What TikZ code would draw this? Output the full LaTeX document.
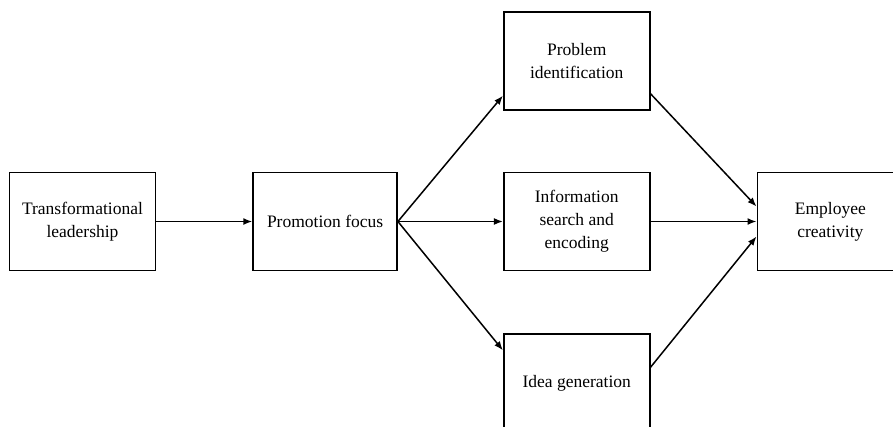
\documentclass[tikz,border=0pt]{standalone}
\usepackage{fontspec}
\setmainfont{Liberation Serif}
\usetikzlibrary{positioning, arrows.meta}

\begin{document}
\begin{tikzpicture}[x=1pt, y=1pt,
	stage/.style={draw, line width=1.6pt, align=center, inner sep=0pt,
		minimum width=146pt, minimum height=98pt,
		font=\fontsize{17.5}{23}\selectfont},
	link/.style={line width=1.5pt, -{Latex[length=9pt,width=7pt]}}]
	\useasboundingbox (0,0) rectangle (893,-426);
	\clip (0,0) rectangle (893,-426);

	\node[stage] (tl) at (82.5,-221.5) {Transformational\\leadership};
	\node[stage, minimum width=144pt, right=96pt of tl] (pf) {Promotion focus};
	\node[stage, right=105pt of pf] (is) {Information\\search and\\encoding};
	\node[stage, above=61pt of is] (pi) {Problem\\identification};
	\node[stage, below=62pt of is] (ig) {Idea generation};
	\node[stage, right=106pt of is] (ec) {Employee\\creativity};

	\draw[link] (tl) -- (pf);
	\draw[link] (pf.east) -- ([yshift=15pt]pi.south west);
	\draw[link] (pf.east) -- (is.west);
	\draw[link] (pf.east) -- ([yshift=-17pt]ig.north west);

	\draw[link] ([yshift=17pt]pi.south east) -- ([yshift=15pt]ec.west);
	\draw[link] (is.east) -- (ec.west);
	\draw[link] ([yshift=-34pt]ig.north east) -- ([yshift=-15pt]ec.west);
\end{tikzpicture}
\end{document}
